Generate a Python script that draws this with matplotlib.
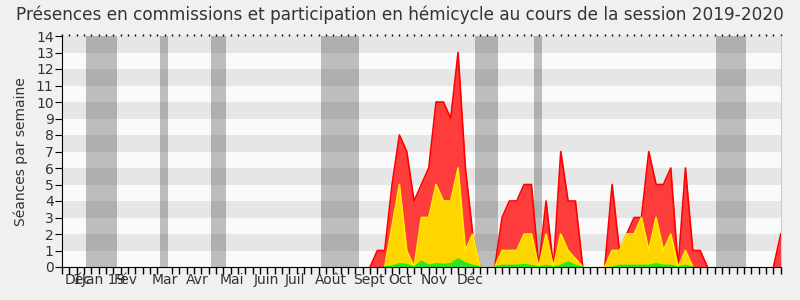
import matplotlib.pyplot as plt
import numpy as np

# weekly values, week 0 = early Dec 2018, 99 weeks
n_weeks = 99
weeks = np.arange(n_weeks)

# values from week 42 to week 98 (all earlier weeks are 0)
start = 42
red_tail = [0, 1, 1, 5, 8, 7, 4, 5, 6, 10, 10, 9, 13, 6, 2, 0,
            0, 0, 3, 4, 4, 5, 5, 0, 4, 0, 7, 4, 4, 0,
            0, 0, 0, 5, 1, 2, 3, 3, 7, 5, 5, 6, 0, 6, 1, 1, 0,
            0, 0, 0, 0, 0, 0, 0, 0, 0, 2]
yellow_tail = [0, 0, 0, 2.5, 5, 1, 0, 3, 3, 5, 4, 4, 6, 1, 2, 0,
               0, 0, 1, 1, 1, 2, 2, 0, 2, 0, 2, 1, 0.5, 0,
               0, 0, 0, 1, 1, 2, 2, 3, 1, 3, 1, 2, 0, 1, 0, 0, 0,
               0, 0, 0, 0, 0, 0, 0, 0, 0, 0]
green_tail = [0, 0, 0, 0.05, 0.2, 0.15, 0, 0.35, 0.1, 0.2, 0.15, 0.2, 0.5, 0.25, 0.1, 0,
              0, 0, 0.1, 0.1, 0.1, 0.15, 0.1, 0, 0.1, 0, 0.1, 0.3, 0.1, 0,
              0, 0, 0, 0, 0.1, 0.1, 0.1, 0.1, 0.1, 0.2, 0.1, 0.1, 0, 0.1, 0, 0, 0,
              0, 0, 0, 0, 0, 0, 0, 0, 0, 0]

red = np.zeros(n_weeks)
yellow = np.zeros(n_weeks)
green = np.zeros(n_weeks)
red[start:] = red_tail
yellow[start:] = yellow_tail
green[start:] = green_tail

# parliamentary breaks (in weeks)
vacations = [(3.27, 7.46), (13.36, 14.41), (20.3, 22.4), (35.3, 40.5),
             (56.3, 59.4), (64.3, 65.4), (89.2, 93.3)]

month_labels = ['Déc', '1Jan 19', 'Fév', 'Mar', 'Avr', 'Mai', 'Juin', 'Juil',
                'Août', 'Sept', 'Oct', 'Nov', 'Déc']
month_pos = [2.2, 5.1, 8.7, 14.0, 18.5, 23.2, 27.8, 31.7, 36.7, 41.9, 46.1, 50.8, 55.6]


def outline(v):
    # hide the edge line where the series sits flat on zero
    v = v.astype(float)
    left = np.r_[0, v[:-1]]
    right = np.r_[v[1:], 0]
    out = v.copy()
    out[(v == 0) & (left == 0) & (right == 0)] = np.nan
    return out


fig = plt.figure(figsize=(8, 3), dpi=100, facecolor='#f0f0f0')
ax = fig.add_axes([0.0775, 0.11, 0.8985, 0.77])

# alternating horizontal bands
for k in range(14):
    ax.axhspan(k, k + 1, color='#e6e6e6' if k % 2 else '#fafafa', lw=0, zorder=0)

for a, b in vacations:
    ax.axvspan(a, b, color='#323232', alpha=0.3, lw=0, zorder=1)

ax.fill_between(weeks, 0, red, color='#ff3c3c', lw=0, zorder=2)
ax.plot(weeks, outline(red), color='#ff0000', lw=1.2, zorder=3)
ax.fill_between(weeks, 0, yellow, color='#ffd500', lw=0, zorder=4)
ax.plot(weeks, outline(yellow), color='#ffee00', lw=1.2, zorder=5)
ax.fill_between(weeks, 0, green, color='#33dd33', lw=0, zorder=6)
ax.plot(weeks, outline(green), color='#00ff00', lw=1, zorder=7)

ax.set_xlim(0, n_weeks - 1)
ax.set_ylim(0, 14)
ax.set_yticks(range(15))
ax.set_xticks(weeks, minor=True)
ax.set_xticks(month_pos)
ax.set_xticklabels(month_labels, fontsize=10, color='#333333')
ax.tick_params(axis='x', which='major', length=0, pad=4)
ax.tick_params(axis='x', which='minor', length=5, width=1, color='black')
ax.tick_params(axis='y', labelsize=10, length=5, labelcolor='#333333', pad=1)

# tiny dotted ticks along the top edge
top = ax.secondary_xaxis('top')
top.set_xticks([])
top.set_xticks(weeks, minor=True)
top.tick_params(which='minor', length=1.5, width=1, color='black')
top.spines['top'].set_visible(False)

ax.spines['top'].set_visible(False)
ax.spines['right'].set_color('#cccccc')
ax.spines['left'].set_color('black')
ax.spines['bottom'].set_color('black')
ax.spines['bottom'].set_zorder(10)
ax.spines['left'].set_zorder(10)

ax.set_ylabel('Séances par semaine', fontsize=10, color='#333333', labelpad=6)
fig.suptitle('Présences en commissions et participation en hémicycle au cours de la session 2019-2020',
             fontsize=12.2, color='#333333', y=0.98)

fig.savefig('out.png', dpi=100, facecolor=fig.get_facecolor())
